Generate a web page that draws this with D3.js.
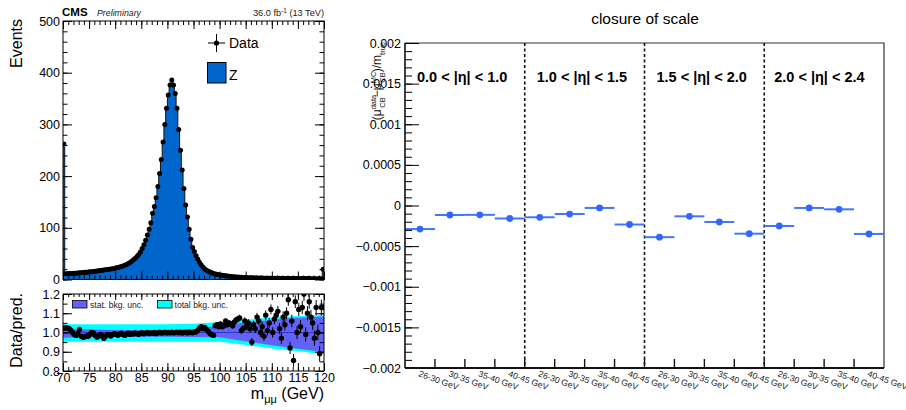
<!DOCTYPE html>
<html>
<head>
<meta charset="utf-8">
<script src="https://cdn.jsdelivr.net/npm/d3@7"></script>
<style>
  body { margin: 0; background: #fff; }
  svg { display: block; font-family: "Liberation Sans", Arial, Helvetica, sans-serif; }
</style>
</head>
<body>
<svg id="c" width="906" height="410"></svg>
<script>
// ---------------- Dimuon invariant mass (150 bins, 70-120 GeV) ----------------
const massRange = [70, 120];

// observed events per bin (first bin holds the underflow, last bin the overflow)
const dataCounts = [
  262,
  11.0, 11.2, 11.4, 11.6, 11.8, 12.0, 12.3, 12.6, 12.9, 13.2, 13.5, 13.8, 14.1, 14.4,
  14.8, 15.2, 15.6, 16.0, 16.4, 16.8, 17.2, 17.7, 18.2, 18.7, 19.2, 19.7, 20.3, 20.9, 21.5,
  22.5, 23.3, 24.2, 25.2, 26.3, 27.6, 29.1, 30.8, 32.8, 35.2,
  38, 41, 44.5, 48.5, 53,
  60, 67, 76, 86, 97, 110, 128, 141, 158, 180, 205, 232, 266, 300, 331, 357, 376, 386,
  376, 360, 331, 290, 250, 212, 176, 144, 121, 97, 78, 62, 54, 46, 39, 33, 28,
  23.5, 20.5, 18, 16, 14.3, 13, 11.8, 10.8, 10, 9.3, 8.7, 8.1, 7.6, 7.2, 6.6,
  6.1, 5.8, 5.5, 5.2, 4.9, 4.7, 4.4, 4.2, 4.0, 3.85, 3.7, 3.55, 3.4, 3.3, 3.2, 3.1, 3.0,
  2.9, 2.8, 2.72, 2.65, 2.58, 2.52, 2.46, 2.4, 2.35,
  2.3, 2.27, 2.24, 2.2, 2.17, 2.14, 2.1, 2.07, 2.04, 2.0, 1.98, 1.95, 1.92, 1.9,
  1.87, 1.84, 1.82, 1.79, 1.76, 1.74, 1.71, 1.68, 1.66, 1.63, 1.6, 1.58, 1.55, 1.52,
  20
];

// data / prediction per bin
const dataOverMC = [
  1.022, 1.025, 1.024, 1.02, 1.012, 1.0, 0.99, 0.985, 0.995, 1.016,
  0.98, 0.975, 0.978, 0.982, 0.98, 0.99, 1.0, 0.998, 0.985, 0.975,
  0.98, 0.99, 0.985, 0.97, 0.98, 0.99, 0.988, 0.982, 0.99, 0.994,
  0.99, 0.986, 0.992, 0.996, 0.99, 0.985, 0.993, 0.997, 0.99, 0.995,
  0.992, 0.998, 0.994, 0.99, 0.996, 0.999, 0.993, 0.997, 1.0, 0.995,
  0.998, 0.996, 1.0, 0.994, 0.998, 1.001, 0.997, 0.999, 1.002, 0.998,
  1.0, 0.999, 1.001, 0.998, 1.0, 1.002, 0.999, 1.001, 0.997, 1.0,
  1.002, 0.998, 1.003, 1.0, 0.999, 1.004, 1.002, 1.012, 1.024, 1.03,
  1.02, 1.026, 1.015, 1.005, 0.995, 0.988, 0.985, 1.035, 1.04, 1.03,
  1.045, 1.03, 1.035, 1.06, 1.04, 1.05, 1.045, 1.035, 1.055, 1.065,
  1.07, 1.075, 1.01, 1.02, 1.06, 1.03, 1.05, 1.02, 0.95, 1.04,
  1.02, 1.08, 1.06, 1.0, 1.03, 0.98, 1.09, 1.01, 1.05, 1.12,
  1.0, 1.07, 1.09, 1.11, 1.02, 0.97, 1.08, 1.04, 1.1, 1.17,
  0.92, 1.06, 0.855, 1.16, 1.0, 1.12, 1.03, 1.13, 1.2, 0.99,
  1.1, 1.16, 1.08, 1.05, 0.97, 1.13, 1.0, 0.89, 1.13, 1.13
];

// statistical uncertainty on the ratio per bin
const ratioErr = [
  0.004, 0.009, 0.009, 0.009, 0.009, 0.009, 0.009, 0.009, 0.009, 0.009,
  0.008, 0.008, 0.008, 0.008, 0.008, 0.008, 0.008, 0.008, 0.008, 0.008,
  0.008, 0.008, 0.008, 0.007, 0.007, 0.007, 0.007, 0.007, 0.007, 0.007,
  0.007, 0.007, 0.006, 0.006, 0.006, 0.006, 0.006, 0.006, 0.006, 0.006,
  0.005, 0.005, 0.005, 0.005, 0.005, 0.005, 0.005, 0.005, 0.005, 0.005,
  0.004, 0.004, 0.004, 0.004, 0.004, 0.004, 0.004, 0.004, 0.004, 0.004,
  0.004, 0.004, 0.004, 0.004, 0.004, 0.004, 0.004, 0.004, 0.004, 0.004,
  0.004, 0.005, 0.005, 0.005, 0.006, 0.006, 0.006, 0.007, 0.007, 0.007,
  0.008, 0.008, 0.009, 0.009, 0.010, 0.010, 0.010, 0.011, 0.011, 0.011,
  0.012, 0.012, 0.013, 0.013, 0.014, 0.014, 0.015, 0.015, 0.016, 0.016,
  0.017, 0.017, 0.018, 0.018, 0.019, 0.019, 0.020, 0.020, 0.021, 0.021,
  0.022, 0.022, 0.023, 0.023, 0.024, 0.024, 0.025, 0.025, 0.026, 0.026,
  0.027, 0.027, 0.028, 0.028, 0.029, 0.029, 0.030, 0.030, 0.031, 0.031,
  0.032, 0.032, 0.033, 0.033, 0.034, 0.034, 0.035, 0.035, 0.036, 0.036,
  0.037, 0.037, 0.038, 0.038, 0.039, 0.039, 0.040, 0.040, 0.041, 0.015
];

// background uncertainty bands on the ratio
const bandMass = [70, 75, 80, 85, 90, 95, 100, 105, 110, 115, 120];
const totUp   = [1.043, 1.043, 1.043, 1.043, 1.043, 1.045, 1.054, 1.066, 1.078, 1.086, 1.092];
const totDn   = [0.952, 0.952, 0.952, 0.952, 0.952, 0.952, 0.952, 0.935, 0.917, 0.902, 0.887];
const statUp  = [1.017, 1.015, 1.013, 1.012, 1.012, 1.015, 1.036, 1.052, 1.066, 1.076, 1.083];
const statDn  = [0.973, 0.975, 0.977, 0.978, 0.978, 0.977, 0.975, 0.955, 0.934, 0.915, 0.899];

const eventTicks = [0, 100, 200, 300, 400, 500];
const ratioTicks = [0.8, 0.9, 1.0, 1.1, 1.2];
const massTicks = [70, 75, 80, 85, 90, 95, 100, 105, 110, 115, 120];

// ---------------- Scale closure per |eta| region and pT bin ----------------
const etaRegions = ["0.0 < |η| < 1.0", "1.0 < |η| < 1.5", "1.5 < |η| < 2.0", "2.0 < |η| < 2.4"];
const ptBins = ["26-30 GeV", "30-35 GeV", "35-40 GeV", "40-45 GeV"];
const closure = [
  -0.00029, -0.000117, -0.000115, -0.00016,
  -0.000145, -0.000105, -0.00003, -0.000234,
  -0.00039, -0.000133, -0.000203, -0.000347,
  -0.000252, -0.00003, -0.000047, -0.00035
];
const closureTicks = [-0.002, -0.0015, -0.001, -0.0005, 0, 0.0005, 0.001, 0.0015, 0.002];

// =====================================================================
const svg = d3.select("#c");
const defs = svg.append("defs");

function cleanAxis(g, fs) {
  g.select(".domain").remove();
  g.attr("font-family", null).attr("font-size", null);
  g.selectAll("line").attr("stroke", "#000").attr("stroke-width", 1);
  g.selectAll("text").attr("fill", "#000").attr("font-size", fs || 12.5);
}

// ---------------- left: upper pad ----------------
const L = { x0: 63, x1: 324, top: 21, bot: 279.5, rTop: 294, rBot: 371 };
const xM = d3.scaleLinear().domain(massRange).range([L.x0, L.x1]);
const yEv = d3.scaleLinear().domain([0, 500]).range([L.bot, L.top]);
const yRa = d3.scaleLinear().domain([0.8, 1.2]).range([L.rBot, L.rTop]);

const nBins = dataCounts.length;
const binW = (massRange[1] - massRange[0]) / nBins;
const lowEdge = i => massRange[0] + i * binW;
const predZ = dataCounts.map((d, i) => d / dataOverMC[i]);

defs.append("clipPath").attr("id", "clipTop").append("rect")
  .attr("x", L.x0).attr("y", L.top).attr("width", L.x1 - L.x0).attr("height", L.bot - L.top);
defs.append("clipPath").attr("id", "clipRat").append("rect")
  .attr("x", L.x0).attr("y", L.rTop).attr("width", L.x1 - L.x0).attr("height", L.rBot - L.rTop);

const steps = predZ.map((v, i) => [lowEdge(i), v]);
steps.push([massRange[1], predZ[nBins - 1]]);

const topG = svg.append("g").attr("clip-path", "url(#clipTop)");
topG.append("path").datum(steps)
  .attr("d", d3.area().curve(d3.curveStepAfter).x(d => xM(d[0])).y0(yEv(0)).y1(d => yEv(d[1])))
  .attr("fill", "#0066cc");
topG.append("path").datum(steps)
  .attr("d", d3.line().curve(d3.curveStepAfter).x(d => xM(d[0])).y(d => yEv(d[1])))
  .attr("fill", "none").attr("stroke", "#111").attr("stroke-width", 1);

const dataPts = dataCounts.map((d, i) => ({
  m: lowEdge(i) + binW / 2, v: d, e: d * ratioErr[i] / dataOverMC[i], r: dataOverMC[i], re: ratioErr[i]
}));
topG.selectAll("line.eb").data(dataPts).join("line")
  .attr("x1", d => xM(d.m)).attr("x2", d => xM(d.m))
  .attr("y1", d => yEv(d.v - d.e)).attr("y2", d => yEv(d.v + d.e))
  .attr("stroke", "#000").attr("stroke-width", 1);
topG.selectAll("circle").data(dataPts).join("circle")
  .attr("cx", d => xM(d.m)).attr("cy", d => yEv(d.v)).attr("r", 2.5).attr("fill", "#000");

// axes of the upper pad
const range1 = d3.range(70, 121, 1);
const ev20 = d3.range(0, 501, 20);
cleanAxis(svg.append("g").attr("transform", `translate(0,${L.bot})`)
  .call(d3.axisBottom(xM).tickValues(range1).tickSize(-4).tickFormat("")));
cleanAxis(svg.append("g").attr("transform", `translate(0,${L.bot})`)
  .call(d3.axisBottom(xM).tickValues(massTicks).tickSize(-8).tickFormat("")));
cleanAxis(svg.append("g").attr("transform", `translate(0,${L.top})`)
  .call(d3.axisTop(xM).tickValues(range1).tickSize(-4).tickFormat("")));
cleanAxis(svg.append("g").attr("transform", `translate(0,${L.top})`)
  .call(d3.axisTop(xM).tickValues(massTicks).tickSize(-8).tickFormat("")));
cleanAxis(svg.append("g").attr("transform", `translate(${L.x0},0)`)
  .call(d3.axisLeft(yEv).tickValues(ev20).tickSize(-4.5).tickFormat("")));
cleanAxis(svg.append("g").attr("transform", `translate(${L.x0},0)`)
  .call(d3.axisLeft(yEv).tickValues(eventTicks).tickSize(-9).tickPadding(3).tickFormat(d3.format("d"))));
cleanAxis(svg.append("g").attr("transform", `translate(${L.x1},0)`)
  .call(d3.axisRight(yEv).tickValues(ev20).tickSize(-4.5).tickFormat("")));
cleanAxis(svg.append("g").attr("transform", `translate(${L.x1},0)`)
  .call(d3.axisRight(yEv).tickValues(eventTicks).tickSize(-9).tickFormat("")));
svg.append("rect").attr("x", L.x0).attr("y", L.top).attr("width", L.x1 - L.x0).attr("height", L.bot - L.top)
  .attr("fill", "none").attr("stroke", "#000").attr("stroke-width", 1);

// header texts
svg.append("text").attr("x", 62).attr("y", 16).attr("font-size", 11.5).attr("font-weight", "bold").text("CMS");
svg.append("text").attr("x", 97).attr("y", 16).attr("font-size", 8.8).attr("font-style", "italic").attr("fill", "#222").text("Preliminary");
const lumi = svg.append("text").attr("x", 324).attr("y", 16).attr("font-size", 9.2).attr("text-anchor", "end").attr("fill", "#222");
lumi.append("tspan").text("36.0 fb");
lumi.append("tspan").attr("dy", -3.5).attr("font-size", 6.5).text("-1");
lumi.append("tspan").attr("dy", 3.5).text(" (13 TeV)");

svg.append("text").attr("transform", "translate(22,19) rotate(-90)").attr("text-anchor", "end")
  .attr("font-size", 16).text("Events");

// legend of the upper pad
const lg = svg.append("g");
lg.append("line").attr("x1", 208).attr("x2", 225).attr("y1", 43).attr("y2", 43).attr("stroke", "#000");
lg.append("line").attr("x1", 216.5).attr("x2", 216.5).attr("y1", 34).attr("y2", 52).attr("stroke", "#000");
lg.append("circle").attr("cx", 216.5).attr("cy", 43).attr("r", 2.6).attr("fill", "#000");
lg.append("text").attr("x", 229).attr("y", 48).attr("font-size", 14).text("Data");
lg.append("rect").attr("x", 207.5).attr("y", 62.5).attr("width", 18.5).attr("height", 20.5)
  .attr("fill", "#0066cc").attr("stroke", "#000").attr("stroke-width", 1);
lg.append("text").attr("x", 229).attr("y", 80).attr("font-size", 14).text("Z");

// ---------------- left: ratio pad ----------------
const ratG = svg.append("g").attr("clip-path", "url(#clipRat)");
const bandIdx = d3.range(bandMass.length);
ratG.append("path").datum(bandIdx)
  .attr("d", d3.area().x(i => xM(bandMass[i])).y0(i => yRa(totDn[i])).y1(i => yRa(totUp[i])))
  .attr("fill", "#00ffff");
ratG.append("path").datum(bandIdx)
  .attr("d", d3.area().x(i => xM(bandMass[i])).y0(i => yRa(statDn[i])).y1(i => yRa(statUp[i])))
  .attr("fill", "#6262f6");
ratG.append("line").attr("x1", L.x0).attr("x2", L.x1).attr("y1", yRa(1)).attr("y2", yRa(1))
  .attr("stroke", "#3333c8").attr("stroke-width", 1);
ratG.selectAll("line.reb").data(dataPts).join("line").attr("class", "reb")
  .attr("x1", d => xM(d.m)).attr("x2", d => xM(d.m))
  .attr("y1", d => yRa(d.r - d.re)).attr("y2", d => yRa(d.r + d.re))
  .attr("stroke", "#000").attr("stroke-width", 1);
ratG.selectAll("circle").data(dataPts).join("circle")
  .attr("cx", d => xM(d.m)).attr("cy", d => yRa(d.r)).attr("r", 2.7).attr("fill", "#000");

// ratio legend
const rl = svg.append("g").attr("font-size", 8.6).attr("fill", "#222");
rl.append("rect").attr("x", 72.5).attr("y", 300.5).attr("width", 14.5).attr("height", 7.5)
  .attr("fill", "#6262f6").attr("stroke", "#000").attr("stroke-width", 0.8);
rl.append("text").attr("x", 90).attr("y", 307.5).text("stat. bkg. unc.");
rl.append("rect").attr("x", 157.5).attr("y", 300.5).attr("width", 14.5).attr("height", 7.5)
  .attr("fill", "#00ffff").attr("stroke", "#000").attr("stroke-width", 0.8);
rl.append("text").attr("x", 174.5).attr("y", 307.5).text("total bkg. unc.");

// ratio axes
const r05 = [0.8, 0.85, 0.9, 0.95, 1.0, 1.05, 1.1, 1.15, 1.2];
cleanAxis(svg.append("g").attr("transform", `translate(0,${L.rBot})`)
  .call(d3.axisBottom(xM).tickValues(range1).tickSize(-4).tickFormat("")));
cleanAxis(svg.append("g").attr("transform", `translate(0,${L.rBot})`)
  .call(d3.axisBottom(xM).tickValues(massTicks).tickSize(-8).tickPadding(2.5).tickFormat(d3.format("d"))));
cleanAxis(svg.append("g").attr("transform", `translate(0,${L.rTop})`)
  .call(d3.axisTop(xM).tickValues(range1).tickSize(-3).tickFormat("")));
cleanAxis(svg.append("g").attr("transform", `translate(0,${L.rTop})`)
  .call(d3.axisTop(xM).tickValues(massTicks).tickSize(-6).tickFormat("")));
cleanAxis(svg.append("g").attr("transform", `translate(${L.x0},0)`)
  .call(d3.axisLeft(yRa).tickValues(r05).tickSize(-4.5).tickFormat("")));
cleanAxis(svg.append("g").attr("transform", `translate(${L.x0},0)`)
  .call(d3.axisLeft(yRa).tickValues(ratioTicks).tickSize(-9).tickPadding(3).tickFormat(d3.format(".1f"))));
cleanAxis(svg.append("g").attr("transform", `translate(${L.x1},0)`)
  .call(d3.axisRight(yRa).tickValues(r05).tickSize(-4.5).tickFormat("")));
cleanAxis(svg.append("g").attr("transform", `translate(${L.x1},0)`)
  .call(d3.axisRight(yRa).tickValues(ratioTicks).tickSize(-9).tickFormat("")));
svg.append("rect").attr("x", L.x0).attr("y", L.rTop).attr("width", L.x1 - L.x0).attr("height", L.rBot - L.rTop)
  .attr("fill", "none").attr("stroke", "#000").attr("stroke-width", 1);

svg.append("text").attr("transform", "translate(22,293) rotate(-90)").attr("text-anchor", "end")
  .attr("font-size", 16).text("Data/pred.");
const mx = svg.append("text").attr("x", 324).attr("y", 399).attr("text-anchor", "end").attr("font-size", 16);
mx.append("tspan").text("m");
mx.append("tspan").attr("dy", 4).attr("font-size", 11).text("μμ");
mx.append("tspan").attr("dy", -4).text(" (GeV)");

// ---------------- right: closure of scale ----------------
const R = { x0: 405, x1: 884, top: 43, bot: 368 };
const xC = d3.scaleBand().domain(d3.range(closure.length)).range([R.x0, R.x1]).paddingInner(0).paddingOuter(0);
const yC = d3.scaleLinear().domain([-0.002, 0.002]).range([R.bot, R.top]);

svg.append("text").attr("x", 645).attr("y", 24).attr("text-anchor", "middle").attr("font-size", 15.5)
  .text("closure of scale");

// frame: thin top/right, heavier left/bottom axes
svg.append("path").attr("d", `M${R.x0},${R.top}H${R.x1}V${R.bot}`)
  .attr("fill", "none").attr("stroke", "#333").attr("stroke-width", 1.2);

// eta region separators
const seps = [4, 8, 12];
svg.selectAll("line.sep").data(seps).join("line").attr("class", "sep")
  .attr("x1", d => xC(d)).attr("x2", d => xC(d)).attr("y1", R.top).attr("y2", R.bot)
  .attr("stroke", "#111").attr("stroke-width", 1.6).attr("stroke-dasharray", "3,2.5");

// eta region labels
svg.selectAll("text.eta").data(etaRegions).join("text").attr("class", "eta")
  .attr("x", (d, i) => xC(i * 4) + (i === 3 ? 10 : 12)).attr("y", 82)
  .attr("font-size", 14.5).attr("font-weight", "bold").text(d => d);

// closure points
const cPts = closure.map((v, i) => ({ i, v }));
svg.selectAll("line.cb").data(cPts).join("line").attr("class", "cb")
  .attr("x1", d => xC(d.i)).attr("x2", d => xC(d.i) + xC.bandwidth())
  .attr("y1", d => yC(d.v)).attr("y2", d => yC(d.v))
  .attr("stroke", "#4477f8").attr("stroke-width", 2);
svg.selectAll("circle.cp").data(cPts).join("circle").attr("class", "cp")
  .attr("cx", d => xC(d.i) + xC.bandwidth() / 2).attr("cy", d => yC(d.v)).attr("r", 3.4)
  .attr("fill", "#3366ff");

// y axis
const minorC = d3.range(-20, 21).map(k => k * 0.0001);
cleanAxis(svg.append("g").attr("transform", `translate(${R.x0},0)`)
  .call(d3.axisLeft(yC).tickValues(minorC).tickSize(-7).tickFormat("")));
cleanAxis(svg.append("g").attr("transform", `translate(${R.x0},0)`)
  .call(d3.axisLeft(yC).tickValues(closureTicks).tickSize(-14).tickPadding(4).tickFormat(d3.format("~g"))));
svg.append("line").attr("x1", R.x0).attr("x2", R.x0).attr("y1", R.top).attr("y2", R.bot)
  .attr("stroke", "#111").attr("stroke-width", 1.6);

// x axis: ticks at bin boundaries, rotated pT labels
const edges = d3.range(1, closure.length);
svg.selectAll("line.xt").data(edges).join("line").attr("class", "xt")
  .attr("x1", d => xC(d)).attr("x2", d => xC(d)).attr("y1", R.bot).attr("y2", R.bot - 9)
  .attr("stroke", "#111").attr("stroke-width", 1.4);
svg.append("line").attr("x1", R.x0).attr("x2", R.x1).attr("y1", R.bot).attr("y2", R.bot)
  .attr("stroke", "#111").attr("stroke-width", 1.8);
svg.selectAll("text.pt").data(cPts).join("text").attr("class", "pt")
  .attr("transform", d => `translate(${xC(d.i) + xC.bandwidth() / 2 - 2},376) rotate(20)`)
  .attr("font-size", 8.6).attr("fill", "#222").text(d => ptBins[d.i % 4]);

// y axis title
const yt = svg.append("text").attr("transform", "translate(381,42) rotate(-90)")
  .attr("text-anchor", "end").attr("font-size", 12).attr("fill", "#111");
yt.append("tspan").text("(μ");
yt.append("tspan").attr("dy", -5).attr("font-size", 7.5).text("data");
yt.append("tspan").attr("dx", -13).attr("dy", 9).attr("font-size", 7.5).text("CB");
yt.append("tspan").attr("dy", -4).text("−μ");
yt.append("tspan").attr("dy", -5).attr("font-size", 7.5).text("MC");
yt.append("tspan").attr("dx", -11).attr("dy", 9).attr("font-size", 7.5).text("CB");
yt.append("tspan").attr("dy", -4).text(")/m");
yt.append("tspan").attr("dy", 4).attr("font-size", 7.5).text("true");
</script>
</body>
</html>
